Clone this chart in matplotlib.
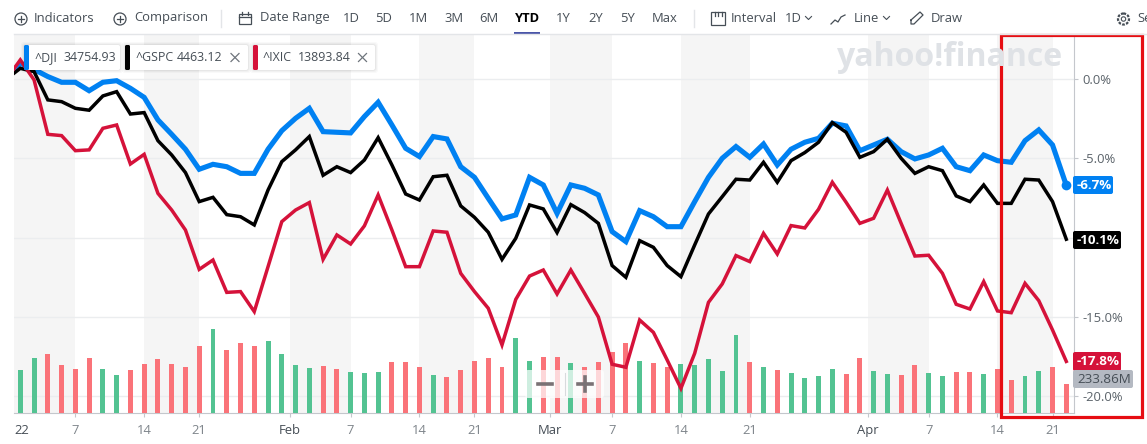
"""
plot.py - Yahoo Finance YTD comparison chart (^DJI, ^GSPC, ^IXIC) with volume bars
"""

import numpy as np
import matplotlib
matplotlib.use('Agg')
import matplotlib.pyplot as plt
from matplotlib.patches import Circle, FancyBboxPatch, Rectangle

plt.rcParams['font.family'] = ['Open Sans', 'DejaVu Sans']

# ── Data ────────────────────────────────────────────────────────────────────
# percent change since the last close of 2021, first entry is that close
dji = [0.0, 0.99, 0.6, 0.15, -0.21, -0.21, -0.74, -0.21, -0.11, -0.59, -1.16,
       -2.58, -3.49, -4.43, -5.69, -5.38, -5.53, -5.95, -5.95, -4.43, -3.26,
       -2.48, -1.85, -3.32, -3.36, -3.40, -2.37, -1.47, -2.90, -4.37, -4.89,
       -3.63, -3.78, -5.53, -6.20, -7.52, -8.82, -8.57, -6.20, -6.68, -8.47,
       -6.68, -6.89, -7.31, -9.62, -10.25, -8.30, -8.68, -9.31, -9.31, -7.73,
       -6.20, -5.00, -4.26, -4.94, -4.10, -5.42, -4.43, -3.99, -3.74, -2.79,
       -2.96, -4.52, -4.16, -3.80, -4.58, -5.04, -4.79, -4.37, -5.53, -5.78,
       -4.79, -5.15, -5.25, -3.89, -3.21, -4.16, -6.70]
gspc = [0.0, 0.67, 0.46, -1.32, -1.43, -1.85, -1.97, -1.07, -0.80, -2.21, -2.12,
        -3.89, -4.79, -5.90, -7.73, -7.46, -8.55, -8.68, -9.20, -7.00, -5.21,
        -4.47, -3.63, -6.07, -5.53, -5.90, -5.11, -3.70, -5.42, -7.25, -7.63,
        -6.16, -6.07, -8.00, -8.72, -9.66, -11.37, -10.04, -7.94, -8.19, -9.68,
        -7.92, -8.42, -9.10, -11.76, -12.50, -10.19, -10.61, -11.76, -12.46,
        -10.46, -8.51, -7.42, -6.32, -6.37, -5.25, -6.51, -5.15, -4.64, -3.99,
        -2.75, -3.36, -4.94, -4.58, -3.80, -5.00, -5.95, -5.53, -5.78, -7.37,
        -7.73, -6.68, -7.84, -7.84, -6.32, -6.37, -7.73, -10.10]
ixic = [0.0, 1.20, -0.06, -3.49, -3.57, -4.52, -4.47, -3.11, -2.90, -5.36, -4.75,
        -7.21, -8.26, -9.52, -12.00, -11.41, -13.45, -13.40, -14.66, -11.83,
        -8.99, -8.26, -7.79, -11.37, -9.83, -10.40, -9.26, -7.31, -9.52, -11.83,
        -11.83, -9.58, -9.66, -12.25, -13.40, -14.45, -16.76, -13.89, -12.42,
        -12.04, -13.55, -12.04, -13.51, -15.00, -17.98, -18.17, -15.19, -15.97,
        -17.71, -19.50, -17.29, -14.08, -12.92, -11.13, -11.51, -9.73, -11.03,
        -9.24, -9.39, -8.21, -6.51, -7.77, -9.10, -8.78, -7.00, -9.10, -11.16,
        -11.11, -12.25, -14.20, -14.50, -12.77, -14.62, -14.73, -12.88, -13.97,
        -15.82, -17.80]

# volume in millions, one bar per trading day
volume = [346, 434, 466, 386, 354, 434, 354, 306, 346, 394, 426, 394, 370, 529,
          665, 505, 553, 529, 569, 473, 386, 362, 378, 354, 330, 322, 330, 410,
          404, 370, 306, 290, 346, 418, 434, 370, 593, 418, 442, 442, 402, 370,
          410, 489, 553, 418, 402, 370, 394, 386, 426, 338, 617, 410, 370, 346,
          322, 282, 298, 354, 314, 434, 338, 314, 306, 386, 322, 298, 330, 330,
          314, 354, 266, 298, 338, 370, 233.86]
# u = up day (green), d = down day (red)
vol_dir = list(''.join([
    'uu', 'dddd', 'uu', 'dddddd', 'u', 'ddd', 'uuuu', 'dd', 'uuu', 'd',
    'dd', 'u', 'ddddd', 'uu', 'dd', 'u', 'dddd', 'u', 'dd', 'uuuuu', 'd', 'u', 'd', 'u',
    'uuu', 'dd', 'uu', 'dd', 'uu', 'dd', 'u', 'dd', 'uu', 'dd']))

tick_labels = ['22', '7', '14', '21', 'Feb', '7', '14', '21', 'Mar', '7', '14',
               '21', 'Apr', '7', '14', '21']
tick_days = [0.12, 4, 9, 13, 19.56, 24, 29, 33, 38.5, 43, 48, 53, 61.56, 66, 71, 75]
band_days = [(-1, 4), (9, 13), (19.56, 24), (29, 33), (38.5, 43), (48, 53),
             (61.56, 66), (71, 75)]
y_ticks = [0, -5, -10, -15, -20]
# -10.0% sits behind the black last-value flag in the original
y_tick_labels = ['0.0%', '-5.0%', '', '-15.0%', '-20.0%']

BLUE, BLACK, RED = '#0081f2', '#000000', '#d5123a'
TXT = '#464e56'
W, H = 1147, 444

# ── Axes: background, volume, lines, then a pixel overlay for the app chrome ─
rect = [14 / W, (H - 413.3) / H, 1060 / W, (413.3 - 35) / H]
fig = plt.figure(figsize=(W / 100, H / 100), dpi=100, facecolor='white')

ax = fig.add_axes(rect, zorder=0)
ax_vol = ax.twinx()

ax.set_xlim(-0.458, 76.56)
ax.set_ylim(-21.07, 2.77)
for a, b in band_days:
    ax.axvspan(a, b, color='#f5f5f5', lw=0, zorder=0)
ax.yaxis.tick_right()
ax.set_yticks(y_ticks)
ax.set_yticklabels(y_tick_labels, fontsize=9.4, color='#5b636a')
ax.grid(axis='y', color='#ebedef', lw=1, zorder=1)
ax.set_axisbelow(True)
ax.set_xticks(tick_days)
ax.set_xticklabels(tick_labels, fontsize=9.4, color='#7f858b')
ax.tick_params(axis='x', length=3, color='#c4c7cc', pad=5)
ax.tick_params(axis='y', length=3, color='#c4c7cc', pad=3)
ax.xaxis.get_major_ticks()[0].tick1line.set_visible(False)
for lab in ax.get_xticklabels():
    if lab.get_text() in ('22', 'Feb', 'Mar', 'Apr'):
        lab.set_color('#464e56')
for s in ('top', 'left'):
    ax.spines[s].set_visible(False)
for s in ('right', 'bottom'):
    ax.spines[s].set_color('#c4c7cc')

# ── Volume bars ─────────────────────────────────────────────────────────────
ax_vol.set_zorder(1)
ax_vol.patch.set_visible(False)
ax_vol.set_ylim(0, 2995)
ax_vol.axis('off')
days = np.arange(len(volume))
bar_cols = ['#53c392' if d == 'u' else '#fa7379' for d in vol_dir]
ax_vol.bar(days, volume, width=0.36, color=bar_cols, lw=0)

# ── Index lines ─────────────────────────────────────────────────────────────
ax_line = fig.add_axes(rect, zorder=2)
ax_line.set_xlim(ax.get_xlim())
ax_line.set_ylim(ax.get_ylim())
ax_line.patch.set_visible(False)
ax_line.axis('off')
line_days = np.arange(-1, len(volume))
ax_line.plot(line_days, dji, color=BLUE, lw=3.7, solid_joinstyle='miter')
ax_line.plot(line_days, gspc, color=BLACK, lw=2.5, solid_joinstyle='miter')
ax_line.plot(line_days, ixic, color=RED, lw=2.5, solid_joinstyle='miter')
ax_line.plot(line_days[-1], dji[-1], 'o', color=BLUE, ms=7, mew=0, clip_on=False)

# ── Overlay in pixel coordinates ────────────────────────────────────────────
ui = fig.add_axes([0, 0, 1, 1], zorder=3)
ui.set_xlim(0, W)
ui.set_ylim(H, 0)
ui.axis('off')
ui.patch.set_visible(False)


def label(x, y, s, color=TXT, size=9.4, **kw):
    ui.text(x, y, s, color=color, fontsize=size, va='center', **kw)


def plus_icon(x, y):
    ui.add_patch(Circle((x, y), 6, fc='none', ec=TXT, lw=0.9))
    ui.plot([x - 3, x + 3], [y, y], color=TXT, lw=0.9)
    ui.plot([x, x], [y - 3, y + 3], color=TXT, lw=0.9)


def chevron(x, y):
    ui.plot([x - 3, x, x + 3], [y - 1.5, y + 1.5, y - 1.5], color=TXT, lw=0.8)


# watermark
ui.text(837, 57, 'yahoo!finance', color='#dfe2e6', fontsize=23, fontweight='bold',
        va='center', ha='left')

# toolbar
ui.plot([14, W], [34.5, 34.5], color='#e3e5e8', lw=1)
plus_icon(21, 19)
label(34, 18, 'Indicators')
plus_icon(120, 19)
label(134, 18, 'Comparison')
ui.plot([221, 221], [10, 27], color='#e3e5e8', lw=1)
ui.add_patch(Rectangle((239, 14), 12, 10, fc='none', ec=TXT, lw=0.9))
ui.plot([239, 251], [17.5, 17.5], color=TXT, lw=0.9)
ui.plot([242, 242], [12, 15], color=TXT, lw=0.9)
ui.plot([248, 248], [12, 15], color=TXT, lw=0.9)
label(260, 18, 'Date Range')
for x, s in [(343, '1D'), (375.5, '5D'), (409, '1M'), (444, '3M'), (479.5, '6M'),
             (556, '1Y'), (588, '2Y'), (620, '5Y'), (651.5, 'Max')]:
    label(x, 18, s)
label(515, 18, 'YTD', color='#000000', fontweight='bold')
ui.add_patch(Rectangle((514, 32), 26, 3, fc='#4a55a8', lw=0))
ui.plot([694, 694], [10, 27], color='#e3e5e8', lw=1)
ui.add_patch(Rectangle((711, 12), 14, 13, fc='none', ec=TXT, lw=0.9))
for x in (714.5, 718, 721.5):
    ui.plot([x, x], [12, 16], color=TXT, lw=0.9)
label(731, 18, 'Interval')
label(784.5, 18, '1D')
chevron(808.5, 18)
ui.plot([831, 835, 838, 841, 845], [24, 20, 22, 17, 15], color=TXT, lw=0.9)
label(854, 18, 'Line')
chevron(886.5, 18)
ui.plot([911, 920, 923, 914, 911, 911], [20, 12, 15, 24, 24, 20], color=TXT, lw=0.9)
label(931, 18, 'Draw')
ui.add_patch(Circle((1123.5, 19), 5.5, fc='none', ec=TXT, lw=1.6, ls=(0, (1.2, 0.6))))
ui.add_patch(Circle((1123.5, 19), 2.2, fc='none', ec=TXT, lw=0.8))
label(1137, 18, 'Se')

# series tags
for x0, x1, col, name, tx, val, vx, cross in [
        (24, 120, BLUE, '^DJI', 34.5, '34754.93', 63, None),
        (125, 248, BLACK, '^GSPC', 135.5, '4463.12', 176.5, 235),
        (253, 375, RED, '^IXIC', 263, '13893.84', 297.5, 362.5)]:
    for grow, alpha in [(3, 0.025), (2, 0.03), (1, 0.04)]:
        ui.add_patch(FancyBboxPatch((x0 - grow, 45 - grow), x1 - x0 + 2 * grow, 25 + 2 * grow,
                                    boxstyle='round,pad=0,rounding_size=3', fc='black',
                                    alpha=alpha, lw=0))
    ui.add_patch(FancyBboxPatch((x0, 45), x1 - x0, 25, boxstyle='round,pad=0,rounding_size=2',
                                fc='white', lw=0))
    ui.add_patch(FancyBboxPatch((x0, 45), 5, 25, boxstyle='round,pad=0,rounding_size=1.5',
                                fc=col, lw=0))
    label(tx, 57.5, name, size=8.9)
    label(vx, 57.5, val, size=8.9)
    if cross:
        ui.plot([cross - 4, cross + 4], [53.5, 61.5], color='#6e757c', lw=0.9)
        ui.plot([cross - 4, cross + 4], [61.5, 53.5], color='#6e757c', lw=0.9)

# last value flags
for y0, y1, x1, col, s, tc, fw, fs in [
        (176, 194, 1113, BLUE, '-6.7%', 'white', 'bold', 9.6),
        (231, 249, 1121, BLACK, '-10.1%', 'white', 'bold', 9.6),
        (352, 371, 1121, RED, '-17.8%', 'white', 'bold', 9.6),
        (370, 388, 1133, '#b4b9c2', '233.86M', '#464e56', 'normal', 9.6)]:
    ui.add_patch(FancyBboxPatch((1073, y0), x1 - 1073, y1 - y0,
                                boxstyle='round,pad=0,rounding_size=2', fc=col, lw=0))
    label(1077, (y0 + y1) / 2, s, color=tc, fontweight=fw, size=fs)

# zoom buttons
ui.add_patch(FancyBboxPatch((525, 370), 79, 28, boxstyle='round,pad=0,rounding_size=3',
                            fc='white', alpha=0.72, lw=0))
ui.plot([565, 565], [373, 395], color='#d8dadd', lw=0.8)
ui.plot([538, 552], [384, 384], color='#7a7275', lw=2.6)
ui.plot([578, 592], [384, 384], color='#7a7275', lw=2.6)
ui.plot([585, 585], [377, 391], color='#7a7275', lw=2.6)

# red highlight frame
ui.add_patch(Rectangle((1000.5, 35), 141, 382, fc='none', ec='#e60d12', lw=2.3))

fig.savefig('out.png', dpi=100)
